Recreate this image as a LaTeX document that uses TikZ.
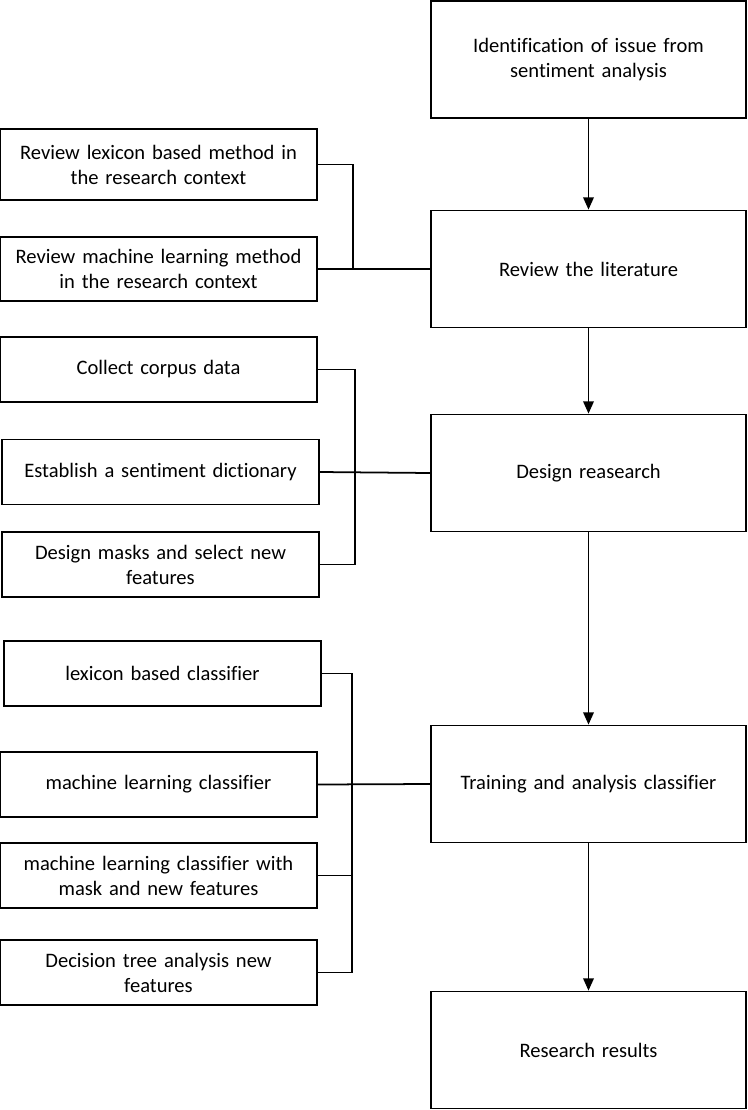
\documentclass[tikz,border=0pt]{standalone}
\usepackage{fontspec}
\setmainfont{Carlito}[RawFeature=-liga]
\usetikzlibrary{arrows.meta,positioning,calc}

\begin{document}
\begin{tikzpicture}[
    mainbox/.style={rectangle, draw, line width=1pt, minimum width=63mm,
                    minimum height=23.4mm, text width=60mm, align=center,
                    font=\fontsize{11.7}{14.2}\selectfont},
    subbox/.style={rectangle, draw, line width=1pt, minimum width=63mm,
                   minimum height=13mm, text width=61mm, align=center,
                   font=\fontsize{11.7}{14.2}\selectfont},
    link/.style={line width=1pt},
    flow/.style={line width=1pt, -{Triangle[width=6pt,length=7pt]}}
  ]
  \useasboundingbox (0,0) rectangle (14.94,-22.2);

  % main steps on the right
  \node[mainbox] (r1) at (11.77,-1.19)  {Identification of issue from\\ sentiment analysis};
  \node[mainbox] (r2) at (11.77,-5.38)  {Review the literature};
  \node[mainbox] (r3) at (11.77,-9.46)  {Design reasearch};
  \node[mainbox] (r4) at (11.77,-15.68) {Training and analysis classifier};
  \node[mainbox] (r5) at (11.77,-21.0)  {Research results};

  % sub tasks on the left
  \node[subbox, minimum height=14.2mm] (l1) at (3.17,-3.29)
    {Review lexicon based method in\\ the research context};
  \node[subbox, minimum height=12.8mm] (l2) at (3.17,-5.38)
    {Review machine learning method\\ in the research context};
  \node[subbox] (l3) at (3.17,-7.39)  {Collect corpus data};
  \node[subbox] (l4) at (3.21,-9.44)  {Establish a sentiment dictionary};
  \node[subbox] (l5) at (3.21,-11.29) {Design masks and select new\\ features};
  \node[subbox] (l6) at (3.25,-13.47) {lexicon based classifier};
  \node[subbox] (l7) at (3.17,-15.69) {machine learning classifier};
  \node[subbox] (l8) at (3.17,-17.51) {machine learning classifier with\\ mask and new features};
  \node[subbox] (l9) at (3.17,-19.45) {Decision tree analysis new\\ features};

  % flow
  \foreach \a/\b in {r1/r2, r2/r3, r3/r4, r4/r5}
    \draw[flow] (\a.south) -- (\b.north);

  % brackets
  \coordinate (k1) at (7.06,0);
  \coordinate (k2) at (7.10,0);
  \coordinate (k3) at (7.04,0);
  \draw[link] (l1.east) -| (k1 |- l2.east);
  \draw[link] (l2.east) -- (r2.west);

  \draw[link] (l3.east) -| (k2 |- l5.east) -- (l5.east);
  \draw[link] (l4.east) -- (r3.west);

  \draw[link] (l6.east) -| (k3 |- l9.east) -- (l9.east);
  \draw[link] (l8.east) -- (k3 |- l8.east);
  \draw[link] (l7.east) -- (r4.west);
\end{tikzpicture}
\end{document}
